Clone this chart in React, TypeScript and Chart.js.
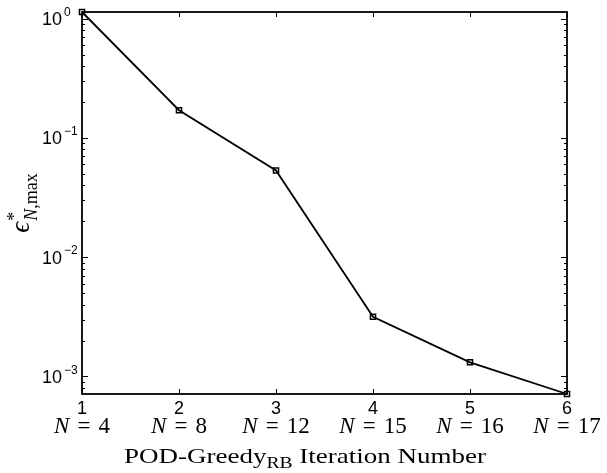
import React, { useEffect, useRef } from 'react';
import { Chart, registerables } from 'chart.js';

Chart.register(...registerables);

// ---- data ----
const iterations = [1, 2, 3, 4, 5, 6];
const basisSizes = ['4', '8', '12', '15', '16', '17'];
const errorValues = [1.136, 0.1706, 0.0533, 0.00317, 0.001315, 0.000713];
const yDecades = [0, -1, -2, -3];
const xTitleMain = 'POD-Greedy';
const xTitleSub = 'RB';
const xTitleRest = ' Iteration Number';

const SANS = '"Liberation Sans", Arial, sans-serif';
const SERIF = '"Liberation Serif", "Times New Roman", serif';

export default function App() {
  const ref = useRef<HTMLCanvasElement>(null);

  useEffect(() => {
    if (!ref.current) return;

    const axesPlugin = {
      id: 'matlabAxes',
      afterDraw(chart: any) {
        const ctx = chart.ctx as CanvasRenderingContext2D;
        const { left, right, top, bottom } = chart.chartArea;
        const xs = chart.scales.x;
        const ys = chart.scales.y;
        ctx.save();
        ctx.strokeStyle = '#000';
        ctx.fillStyle = '#000';

        // box
        ctx.lineWidth = 1.8;
        ctx.strokeRect(left, top, right - left, bottom - top);

        // y ticks (major + minor), inward on both sides
        ctx.lineWidth = 1;
        ctx.beginPath();
        for (let e = -4; e <= 0; e++) {
          for (let m = 1; m <= 9; m++) {
            const v = m * Math.pow(10, e);
            if (v < ys.min || v > ys.max) continue;
            const y = Math.round(ys.getPixelForValue(v)) + 0.5;
            const len = m === 1 ? 6 : 3;
            ctx.moveTo(left, y);
            ctx.lineTo(left + len, y);
            ctx.moveTo(right, y);
            ctx.lineTo(right - len, y);
          }
        }
        // x ticks
        iterations.forEach((it) => {
          const x = Math.round(xs.getPixelForValue(it)) + 0.5;
          ctx.moveTo(x, bottom);
          ctx.lineTo(x, bottom - 5);
          ctx.moveTo(x, top);
          ctx.lineTo(x, top + 5);
        });
        ctx.stroke();

        // y tick labels 10^k
        yDecades.forEach((e) => {
          const y = ys.getPixelForValue(Math.pow(10, e));
          ctx.font = `18px ${SANS}`;
          ctx.textAlign = 'right';
          ctx.textBaseline = 'middle';
          ctx.fillText('10', left - 20, y + 1.5);
          ctx.font = `12px ${SANS}`;
          ctx.textAlign = 'left';
          ctx.fillText(e === 0 ? '0' : '\u2212' + String(-e), left - 18, y - 6);
        });

        // x tick labels: number + "N = n"
        iterations.forEach((it, i) => {
          const x = xs.getPixelForValue(it);
          ctx.font = `18px ${SANS}`;
          ctx.textAlign = 'center';
          ctx.textBaseline = 'alphabetic';
          ctx.fillText(String(it), x, bottom + 20);

          const gap = 8;
          ctx.font = `italic 23px ${SERIF}`;
          const wN = ctx.measureText('N').width;
          ctx.font = `23px ${SERIF}`;
          const wEq = ctx.measureText('=').width;
          const wNum = ctx.measureText(basisSizes[i]).width;
          const total = wN + gap + wEq + gap + wNum;
          let cx = x - total / 2;
          const base = bottom + 39;
          ctx.textAlign = 'left';
          ctx.font = `italic 23px ${SERIF}`;
          ctx.fillText('N', cx, base);
          cx += wN + gap;
          ctx.font = `23px ${SERIF}`;
          ctx.fillText('=', cx, base);
          cx += wEq + gap;
          ctx.fillText(basisSizes[i], cx, base);
        });

        // x axis title
        {
          const base = 463;
          ctx.textAlign = 'left';
          ctx.textBaseline = 'alphabetic';
          ctx.font = `22px ${SERIF}`;
          const w1 = ctx.measureText(xTitleMain).width;
          ctx.font = `16px ${SERIF}`;
          const w2 = ctx.measureText(xTitleSub).width;
          ctx.font = `22px ${SERIF}`;
          const w3 = ctx.measureText(xTitleRest).width;
          const natural = w1 + w2 + w3;
          const target = 362;
          const sx = target / natural;
          ctx.save();
          ctx.translate(124, base);
          ctx.scale(sx, 1);
          ctx.font = `22px ${SERIF}`;
          ctx.fillText(xTitleMain, 0, 0);
          ctx.font = `16px ${SERIF}`;
          ctx.fillText(xTitleSub, w1, 5);
          ctx.font = `22px ${SERIF}`;
          ctx.fillText(xTitleRest, w1 + w2, 0);
          ctx.restore();
        }

        // y axis title: epsilon^*_{N,max}
        {
          ctx.save();
          ctx.translate(29, (top + bottom) / 2);
          ctx.rotate(-Math.PI / 2);
          ctx.textAlign = 'left';
          ctx.textBaseline = 'alphabetic';
          ctx.font = `italic 27px ${SERIF}`;
          const wEps = ctx.measureText('\u03f5').width;
          ctx.font = `italic 18px ${SERIF}`;
          const wNs = ctx.measureText('N').width;
          ctx.font = `18px ${SERIF}`;
          const wMax = ctx.measureText(',max').width;
          const total = wEps + 1 + wNs + wMax;
          let cx = -total / 2;
          ctx.font = `italic 27px ${SERIF}`;
          ctx.fillText('\u03f5', cx, 0);
          cx += wEps + 1;
          ctx.font = `18px ${SERIF}`;
          ctx.fillText('*', cx, -9);
          ctx.font = `italic 18px ${SERIF}`;
          ctx.fillText('N', cx, 8);
          ctx.font = `18px ${SERIF}`;
          ctx.fillText(',max', cx + wNs, 8);
          ctx.restore();
        }

        ctx.restore();
      },
    };

    const chart = new Chart(ref.current, {
      type: 'line',
      data: {
        datasets: [
          {
            data: iterations.map((x, i) => ({ x, y: errorValues[i] })),
            borderColor: '#000',
            borderWidth: 1.8,
            pointStyle: 'rect',
            pointRadius: 3.6,
            pointBorderWidth: 1.5,
            pointBorderColor: '#000',
            pointBackgroundColor: 'rgba(255,255,255,0)',
            tension: 0,
            clip: false as any,
          },
        ],
      },
      options: {
        responsive: false,
        animation: false,
        devicePixelRatio: 1,
        layout: { padding: { left: 82, right: 40, top: 12, bottom: 79 } },
        plugins: { legend: { display: false }, tooltip: { enabled: false } },
        scales: {
          x: { type: 'linear', min: 1, max: 6, display: false },
          y: { type: 'logarithmic', min: 0.000713, max: 1.136, display: false },
        },
      },
      plugins: [axesPlugin],
    });
    return () => chart.destroy();
  }, []);

  return (
    <div style={{ position: 'fixed', left: 0, top: 0, width: 607, height: 473, background: '#fff' }}>
      <canvas ref={ref} width={607} height={473} style={{ display: 'block' }} />
    </div>
  );
}
